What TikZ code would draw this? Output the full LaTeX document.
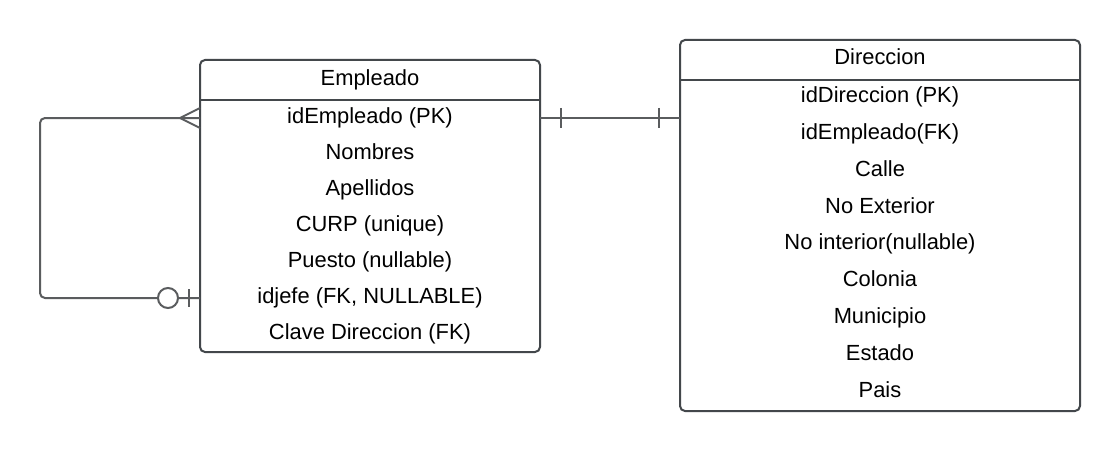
\documentclass[tikz,border=0pt]{standalone}
\usepackage{fontspec}
\setmainfont{Liberation Sans}
\definecolor{boxline}{HTML}{43474B}
\definecolor{connline}{HTML}{5A5C5E}
\begin{document}
\begin{tikzpicture}[x=1pt,y=-1pt,
  entity/.style={draw=boxline,line width=2pt,rounded corners=5pt},
  sep/.style={draw=boxline,line width=2pt},
  conn/.style={draw=connline,line width=2pt},
  field/.style={anchor=base,inner sep=0pt,font=\fontsize{21.9}{24}\selectfont,text=black}]
\useasboundingbox (0,0) rectangle (1120,452);
\fill[white] (0,0) rectangle (1120,452);

% Empleado
\node[entity,minimum width=340pt,minimum height=292pt,inner sep=0pt] (emp) at (370,206) {};
\draw[sep] (200,100) -- (540,100);
\node[field] (empH) at (370,85.5) {Empleado};
\node[field] (e1) at (370,123.5) {idEmpleado (PK)};
\node[field] (e2) at (370,159.5) {Nombres};
\node[field] (e3) at (370,195.5) {Apellidos};
\node[field] (e4) at (370,231.5) {CURP (unique)};
\node[field] (e5) at (370,267.5) {Puesto (nullable)};
\node[field] (e6) at (370,303.5) {idjefe (FK, NULLABLE)};
\node[field] (e7) at (370,339.5) {Clave Direccion (FK)};

% Direccion
\node[entity,minimum width=400pt,minimum height=371pt,inner sep=0pt] (dir) at (880,225.5) {};
\draw[sep] (680,80) -- (1080,80);
\node[field] (dirH) at (880,64.3) {Direccion};
\node[field] (d1) at (880,102.7) {idDireccion (PK)};
\node[field] (d2) at (880,139.5) {idEmpleado(FK)};
\node[field] (d3) at (880,176.3) {Calle};
\node[field] (d4) at (880,213.1) {No Exterior};
\node[field] (d5) at (880,249.9) {No interior(nullable)};
\node[field] (d6) at (880,286.7) {Colonia};
\node[field] (d7) at (880,323.5) {Municipio};
\node[field] (d8) at (880,360.3) {Estado};
\node[field] (d9) at (880,397.1) {Pais};

% connection points
\coordinate (selfMany) at (200,118);
\coordinate (selfOne) at (200,298);
\coordinate (cornerTop) at (40,118);
\coordinate (cornerBot) at (40,298);
\coordinate (relL) at (540,118);
\coordinate (relR) at (680,118);

% self relationship
\draw[conn,rounded corners=5pt] (selfMany) -- (cornerTop) -- (cornerBot) -- (selfOne);
% crow's foot (many)
\draw[conn] (200,108) -- (180,118) -- (200,128);
% zero-or-one
\draw[conn] (189,289) -- (189,307);
\draw[conn,fill=white] (168,298) circle (10);

% one-to-one relationship
\draw[conn] (relL) -- (relR);
\draw[conn] (561,108) -- (561,128);
\draw[conn] (659,108) -- (659,128);
\end{tikzpicture}
\end{document}
